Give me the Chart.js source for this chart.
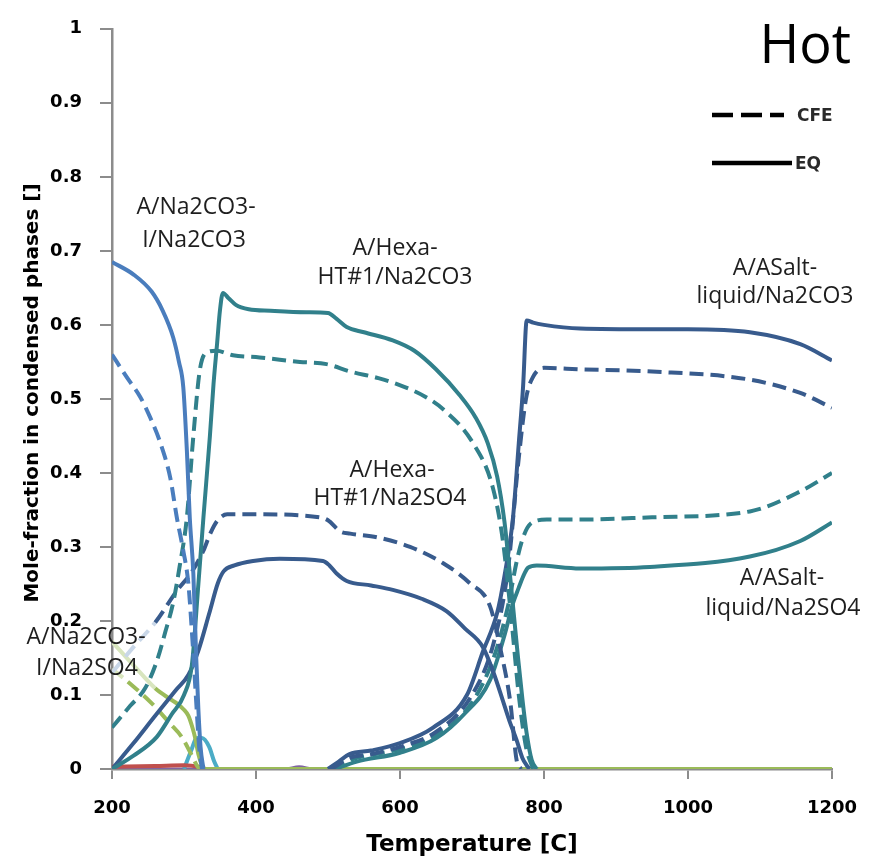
<!DOCTYPE html>
<html>
<head>
<meta charset="utf-8">
<title>Hot</title>
<script src="https://cdn.jsdelivr.net/npm/chart.js@4.4.1/dist/chart.umd.min.js"></script>
<style>
  body { margin: 0; background: #fff; }
  canvas { display: block; }
</style>
</head>
<body>
<canvas id="myChart" width="876" height="859"></canvas>
<script>
// Axis ticks
const xTicks = [200, 400, 600, 800, 1000, 1200];
const yTicks = [0, 0.1, 0.2, 0.3, 0.4, 0.5, 0.6, 0.7, 0.8, 0.9, 1];

// A/Na2CO3-I/Na2CO3
const tCO3I_CO3_eq = [200, 230, 255, 270, 285, 293, 299, 304, 308, 313, 317, 320, 323, 327];
const vCO3I_CO3_eq = [0.685, 0.668, 0.645, 0.62, 0.583, 0.55, 0.516, 0.43, 0.34, 0.264, 0.15, 0.08, 0.03, 0];
const tCO3I_CO3_cfe = [200, 220, 239, 253, 267, 281, 290, 299, 306, 312, 317, 321, 325];
const vCO3I_CO3_cfe = [0.56, 0.53, 0.503, 0.475, 0.441, 0.393, 0.34, 0.295, 0.251, 0.17, 0.09, 0.03, 0];

// A/Na2CO3-I/Na2SO4
const tCO3I_SO4_eq = [200, 230, 260, 280, 291, 300, 306, 312, 316, 320, 325, 329, 400, 600, 800, 1000, 1200];
const vCO3I_SO4_eq = [0.172, 0.14, 0.109, 0.095, 0.088, 0.08, 0.072, 0.055, 0.04, 0.02, 0.005, 0, 0, 0, 0, 0, 0];
const tCO3I_SO4_cfe = [200, 222, 256, 280, 297, 310, 319, 323];
const vCO3I_SO4_cfe = [0.135, 0.118, 0.088, 0.062, 0.043, 0.02, 0.003, 0];

// A/Hexa-HT#1/Na2CO3
const tHexa_CO3_eq = [200, 230, 262, 283, 300, 311, 320, 327, 336, 341, 346, 350, 354, 362, 372, 390, 420, 470, 500, 512, 526, 550, 590, 620, 650, 683, 705, 722, 735, 745, 752, 758, 764, 770, 776, 783, 790];
const vHexa_CO3_eq = [0, 0.018, 0.043, 0.074, 0.1, 0.141, 0.25, 0.34, 0.45, 0.52, 0.575, 0.62, 0.643, 0.636, 0.627, 0.621, 0.619, 0.617, 0.616, 0.608, 0.597, 0.59, 0.579, 0.565, 0.54, 0.505, 0.475, 0.44, 0.395, 0.335, 0.27, 0.21, 0.15, 0.095, 0.048, 0.012, 0];
const tHexa_CO3_cfe = [200, 225, 246, 262, 274, 285, 294, 304, 313, 322, 332, 345, 368, 405, 461, 498, 531, 570, 604, 635, 660, 701, 729, 743, 755, 765, 775, 785];
const vHexa_CO3_cfe = [0.056, 0.085, 0.109, 0.145, 0.185, 0.225, 0.274, 0.34, 0.45, 0.539, 0.563, 0.565, 0.559, 0.556, 0.55, 0.547, 0.537, 0.528, 0.517, 0.503, 0.486, 0.441, 0.38, 0.308, 0.2, 0.1, 0.03, 0];

// A/Hexa-HT#1/Na2SO4
const tHexa_SO4_eq = [200, 230, 260, 290, 306, 320, 335, 347, 355, 370, 396, 433, 493, 502, 512, 526, 560, 590, 630, 665, 690, 715, 730, 743, 752, 762, 770, 776, 780];
const vHexa_SO4_eq = [0, 0.035, 0.072, 0.108, 0.127, 0.16, 0.21, 0.251, 0.267, 0.275, 0.281, 0.284, 0.281, 0.275, 0.264, 0.254, 0.248, 0.242, 0.23, 0.213, 0.19, 0.165, 0.13, 0.092, 0.065, 0.039, 0.015, 0.005, 0];
const tHexa_SO4_cfe = [200, 230, 260, 291, 310, 327, 336, 346, 360, 405, 489, 500, 517, 531, 568, 614, 660, 697, 725, 740, 753, 762, 768];
const vHexa_SO4_cfe = [0.13, 0.165, 0.198, 0.242, 0.265, 0.295, 0.317, 0.335, 0.344, 0.344, 0.34, 0.336, 0.321, 0.318, 0.313, 0.3, 0.278, 0.251, 0.22, 0.16, 0.092, 0.012, 0];

// A/ASalt-liquid/Na2CO3
const tSalt_CO3_eq = [500, 515, 530, 560, 600, 646, 693, 715, 735, 745, 757, 765, 771, 776, 785, 800, 850, 950, 1000, 1086, 1156, 1200];
const vSalt_CO3_eq = [0, 0.01, 0.02, 0.025, 0.035, 0.056, 0.1, 0.158, 0.211, 0.26, 0.34, 0.44, 0.517, 0.606, 0.603, 0.6, 0.595, 0.594, 0.594, 0.59, 0.574, 0.552];
const tSalt_CO3_cfe = [505, 530, 560, 600, 650, 700, 730, 750, 765, 775, 785, 800, 850, 950, 1086, 1156, 1200];
const vSalt_CO3_cfe = [0, 0.015, 0.02, 0.03, 0.05, 0.1, 0.17, 0.27, 0.42, 0.5, 0.53, 0.542, 0.54, 0.537, 0.526, 0.508, 0.488];

// A/ASalt-liquid/Na2SO4
const tSalt_SO4_eq = [510, 540, 600, 651, 690, 725, 745, 757, 765, 771, 778, 790, 850, 947, 1086, 1156, 1200];
const vSalt_SO4_eq = [0, 0.01, 0.022, 0.042, 0.075, 0.12, 0.18, 0.224, 0.245, 0.26, 0.272, 0.275, 0.271, 0.273, 0.287, 0.308, 0.333];
const tSalt_SO4_cfe = [505, 530, 600, 650, 700, 730, 750, 762, 770, 781, 804, 850, 950, 1086, 1156, 1200];
const vSalt_SO4_cfe = [0, 0.012, 0.027, 0.045, 0.09, 0.15, 0.22, 0.28, 0.31, 0.331, 0.337, 0.337, 0.34, 0.348, 0.375, 0.4];

// minor phases near zero
const tMinorRed = [200, 260, 300, 320, 330];
const vMinorRed = [0.003, 0.004, 0.005, 0.003, 0];
const tMinorCyan = [300, 310, 318, 325, 335, 342, 347];
const vMinorCyan = [0, 0.025, 0.042, 0.042, 0.03, 0.01, 0];
const tMinorPurple = [200, 440, 460, 480, 1200];
const vMinorPurple = [0, 0, 0.003, 0, 0];

// colours
const blue = '#4a7dbd';
const teal = '#31808b';
const darkBlue = '#385b8d';
const green = '#9bbb59';
const paleGreen = '#d8e5be';
const paleBlue = '#c9d7e8';

const zip = (t, v) => t.map((x, i) => ({ x: x, y: v[i] }));

const line = (label, t, v, color, dashed, extra) => Object.assign({
  label: label,
  data: zip(t, v),
  borderColor: color,
  borderWidth: 4,
  borderDash: dashed ? [14, 7] : [],
  pointRadius: 0,
  cubicInterpolationMode: 'monotone',
  fill: false
}, extra || {});

// pale start of some curves
const paleStart = (pale, color, limit) => ({
  segment: { borderColor: c => c.p0.parsed.x < limit ? pale : color }
});

// -----===== text plugin =====-----
const textPlugin = {
  id: 'texts',
  afterDatasetsDraw(chart) {
    const ctx = chart.ctx;
    ctx.save();
    // annotations
    ctx.fillStyle = '#1e1e1e';
    ctx.font = '23px "Open Sans"';
    ctx.textAlign = 'center';
    ctx.textBaseline = 'middle';
    const notes = [
      ['A/Na2CO3-', 196, 207], ['I/Na2CO3', 194, 240],
      ['A/Hexa-', 395, 248], ['HT#1/Na2CO3', 395, 277],
      ['A/Hexa-', 392, 470], ['HT#1/Na2SO4', 390, 498],
      ['A/ASalt-', 775, 268], ['liquid/Na2CO3', 775, 296],
      ['A/ASalt-', 782, 578], ['liquid/Na2SO4', 783, 608],
      ['A/Na2CO3-', 86, 637], ['I/Na2SO4', 87, 668]
    ];
    notes.forEach(n => ctx.fillText(n[0], n[1], n[2]));

    // title
    ctx.font = '54px "Open Sans"';
    ctx.textAlign = 'right';
    ctx.textBaseline = 'alphabetic';
    ctx.fillStyle = '#000';
    ctx.fillText('Hot', 851, 63);

    // legend
    ctx.strokeStyle = '#000';
    ctx.lineWidth = 4.5;
    ctx.setLineDash([21, 8]);
    ctx.beginPath();
    ctx.moveTo(712, 115);
    ctx.lineTo(784, 115);
    ctx.stroke();
    ctx.setLineDash([]);
    ctx.beginPath();
    ctx.moveTo(712, 163);
    ctx.lineTo(792, 163);
    ctx.stroke();
    ctx.font = 'bold 17px "DejaVu Sans"';
    ctx.textAlign = 'left';
    ctx.textBaseline = 'middle';
    ctx.fillStyle = '#2a2a2a';
    ctx.fillText('CFE', 797, 117);
    ctx.fillText('EQ', 795, 165);

    // axis titles
    ctx.textAlign = 'center';
    ctx.fillStyle = '#000';
    ctx.font = 'bold 23px "DejaVu Sans"';
    ctx.fillText('Temperature [C]', 472, 845);
    ctx.font = 'bold 20px "DejaVu Sans"';
    ctx.translate(33, 393);
    ctx.rotate(-Math.PI / 2);
    ctx.fillText('Mole-fraction in condensed phases []', 0, 0);
    ctx.restore();
  }
};

// -----===== DRAW CHART =====-----
const ctx = document.getElementById('myChart').getContext('2d');
const myChart = new Chart(ctx, {
  type: 'line',
  data: {
    datasets: [
      line('A/Na2CO3-I/Na2CO3 EQ', tCO3I_CO3_eq, vCO3I_CO3_eq, blue, false),
      line('A/Na2CO3-I/Na2CO3 CFE', tCO3I_CO3_cfe, vCO3I_CO3_cfe, blue, true),
      line('A/Hexa-HT#1/Na2CO3 EQ', tHexa_CO3_eq, vHexa_CO3_eq, teal, false),
      line('A/Hexa-HT#1/Na2CO3 CFE', tHexa_CO3_cfe, vHexa_CO3_cfe, teal, true),
      line('A/Hexa-HT#1/Na2SO4 EQ', tHexa_SO4_eq, vHexa_SO4_eq, darkBlue, false),
      line('A/Hexa-HT#1/Na2SO4 CFE', tHexa_SO4_cfe, vHexa_SO4_cfe, darkBlue, true, paleStart(paleBlue, darkBlue, 255)),
      line('A/ASalt-liquid/Na2CO3 EQ', tSalt_CO3_eq, vSalt_CO3_eq, darkBlue, false),
      line('A/ASalt-liquid/Na2CO3 CFE', tSalt_CO3_cfe, vSalt_CO3_cfe, darkBlue, true),
      line('A/ASalt-liquid/Na2SO4 EQ', tSalt_SO4_eq, vSalt_SO4_eq, teal, false),
      line('A/ASalt-liquid/Na2SO4 CFE', tSalt_SO4_cfe, vSalt_SO4_cfe, teal, true),
      line('A/Na2CO3-I/Na2SO4 EQ', tCO3I_SO4_eq, vCO3I_SO4_eq, green, false, paleStart(paleGreen, green, 245)),
      line('A/Na2CO3-I/Na2SO4 CFE', tCO3I_SO4_cfe, vCO3I_SO4_cfe, green, true, paleStart(paleGreen, green, 215)),
      line('red', tMinorRed, vMinorRed, '#c0504d', false),
      line('cyan', tMinorCyan, vMinorCyan, '#4bacc6', false),
      line('purple', tMinorPurple, vMinorPurple, '#8064a2', false, { borderWidth: 3 })
    ]
  },
  options: {
    responsive: false,
    animation: false,
    layout: { padding: { left: 0, right: 44, top: 16, bottom: 0 } },
    plugins: {
      legend: { display: false },
      tooltip: { enabled: false }
    },
    scales: {
      x: {
        type: 'linear',
        min: 200,
        max: 1200,
        afterBuildTicks: s => { s.ticks = xTicks.map(v => ({ value: v })); },
        afterFit: s => { s.height = 90; },
        grid: { drawOnChartArea: false, drawTicks: true, tickLength: 10, color: '#8c8c8c', lineWidth: 2 },
        border: { color: '#8c8c8c', width: 2.5 },
        ticks: {
          color: '#000',
          padding: 19,
          font: { family: 'DejaVu Sans', size: 18, weight: 'bold' },
          callback: v => String(v)
        }
      },
      y: {
        type: 'linear',
        min: 0,
        max: 1,
        afterBuildTicks: s => { s.ticks = yTicks.map(v => ({ value: v })); },
        afterFit: s => { s.width = 112; },
        grid: { drawOnChartArea: false, drawTicks: true, tickLength: 12, color: '#8c8c8c', lineWidth: 2 },
        border: { color: '#8c8c8c', width: 2.5 },
        ticks: {
          color: '#000',
          padding: 18,
          font: { family: 'DejaVu Sans', size: 18, weight: 'bold' },
          callback: v => Number(v.toFixed(1)).toString()
        }
      }
    }
  },
  plugins: [textPlugin]
});
</script>
</body>
</html>
